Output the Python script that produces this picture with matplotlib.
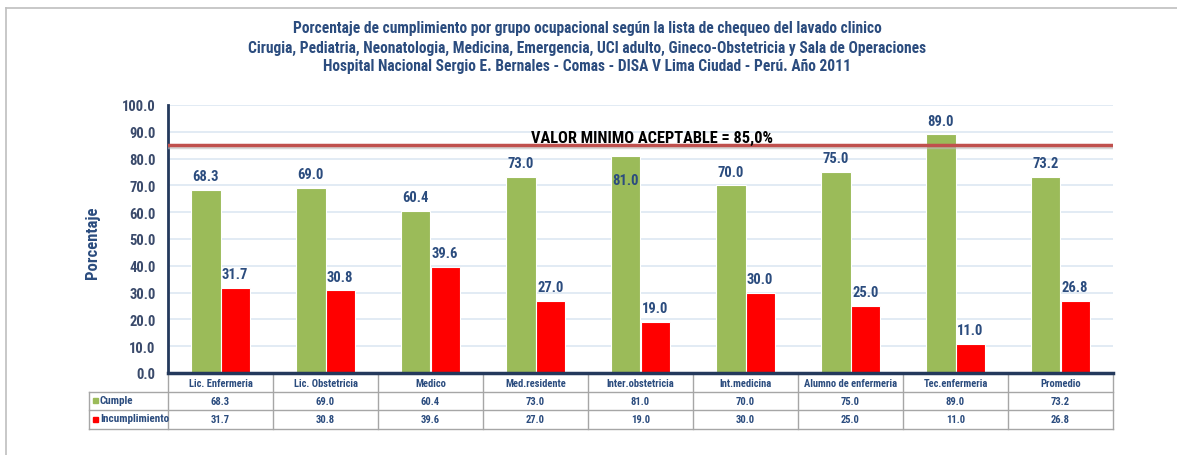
import matplotlib
matplotlib.use("Agg")
import matplotlib.pyplot as plt
from matplotlib.patches import Rectangle
import numpy as np

categories = ["Lic. Enfermeria", "Lic. Obstetricia", "Medico", "Med.residente",
              "Inter.obstetricia", "Int.medicina", "Alumno de enfermeria",
              "Tec.enfermeria", "Promedio"]
cumple = [68.3, 69.0, 60.4, 73.0, 81.0, 70.0, 75.0, 89.0, 73.2]
incumplimiento = [31.7, 30.8, 39.6, 27.0, 19.0, 30.0, 25.0, 11.0, 26.8]
series_names = ["Cumple", "Incumplimiento"]
ref_value = 85.0
ref_label = "VALOR MINIMO ACEPTABLE = 85,0%"
title_lines = [
    "Porcentaje de cumplimiento por grupo ocupacional según la lista de chequeo del lavado clinico",
    "Cirugia, Pediatria, Neonatologia, Medicina, Emergencia, UCI adulto, Gineco-Obstetricia y Sala de Operaciones",
    "Hospital Nacional Sergio E. Bernales - Comas - DISA V Lima Ciudad - Perú. Año 2011",
]

plt.rcParams['font.family'] = ["Roboto Condensed", "DejaVu Sans"]
GREEN = "#9BBB59"
RED = "#FF0000"
NAVY = "#2B4C7E"
TXT = "#3A4A6B"

W, H = 1177, 456
fig = plt.figure(figsize=(W / 100, H / 100), dpi=100)

ov = fig.add_axes([0, 0, 1, 1])
ov.set_xlim(0, W)
ov.set_ylim(H, 0)
ov.axis("off")

ov.plot([6, 6], [9, H], color="#BFBFBF", lw=1.2)
ov.plot([6, W], [9, 9], color="#BFBFBF", lw=1.2)

L, R, T, B = 168, 1113, 106, 374
ax = fig.add_axes([L / W, 1 - B / H, (R - L) / W, (B - T) / H])
n = len(categories)
x = np.arange(n)
bw = 0.28
ax.set_xlim(-0.5, n - 0.5)
ax.set_ylim(0, 100)
ax.set_yticks(np.arange(0, 101, 10))
ax.set_yticklabels([f"{v:.1f}" for v in np.arange(0, 101, 10)])
ax.tick_params(axis="y", length=0, pad=9, labelsize=10.5, labelcolor=TXT)
for lab in ax.get_yticklabels():
    lab.set_fontweight("bold")
ax.set_xticks([])
for v in range(10, 101, 10):
    ax.axhline(v, color="#DDE8F2", lw=1.2, zorder=0)
for s in ["top", "right"]:
    ax.spines[s].set_visible(False)
ax.spines["left"].set_color("#24395C")
ax.spines["left"].set_linewidth(2)
ax.spines["bottom"].set_color("#24395C")
ax.spines["bottom"].set_linewidth(2.5)

ax.bar(x - bw / 2, cumple, bw, color=GREEN, edgecolor="white", lw=0.8, zorder=2)
ax.bar(x + bw / 2, incumplimiento, bw, color=RED, edgecolor="white", lw=0.8, zorder=2)

for xi, v in zip(x, cumple):
    off = -17 if abs(v + 5 - ref_value) < 4 else 10
    ax.annotate(f"{v:.1f}", (xi - bw / 2, v), xytext=(0, off), textcoords="offset points",
                ha="center", va="center", fontsize=10.5, fontweight="bold", color=NAVY, zorder=4)
for xi, v in zip(x, incumplimiento):
    ax.annotate(f"{v:.1f}", (xi + bw / 2, v), xytext=(0, 10), textcoords="offset points",
                ha="center", va="center", fontsize=10.5, fontweight="bold", color=NAVY, zorder=4)

ax.axhline(ref_value - 0.6, color="#BBBBBB", lw=2.5, alpha=0.6, zorder=3)
ax.axhline(ref_value, color="#C0504D", lw=2.5, zorder=3)
ax.text(4.11, ref_value + 3.0, ref_label, ha="center", va="center", fontsize=11.8,
        fontweight="bold", color="black", zorder=4)

ax.set_ylabel("Porcentaje", fontsize=12, fontweight="bold", color=NAVY)
ax.yaxis.set_label_coords(-0.072, 0.49)

for i, t in enumerate(title_lines):
    ov.text(587, 29 + i * 19, t, ha="center", va="center", fontsize=11.2,
            fontweight="bold", color=NAVY)

cw = (R - L) / n
grid = "#A6A6A6"
y0, y1, y2, y3 = B, 393, 411, 430
TL = 89
for i in range(n + 1):
    xx = L + i * cw
    ov.plot([xx, xx], [y0, y3], color=grid, lw=1)
ov.plot([TL, TL], [y1, y3], color=grid, lw=1)
ov.plot([TL, R], [y1, y1], color=grid, lw=1)
ov.plot([TL, R], [y2, y2], color=grid, lw=1)
ov.plot([TL, R], [y3, y3], color=grid, lw=1)
for i, c in enumerate(categories):
    cx = L + (i + 0.5) * cw
    ov.text(cx, (y0 + y1) / 2 + 1, c, ha="center", va="center", fontsize=7.6,
            fontweight="bold", color=NAVY)
    ov.text(cx, (y1 + y2) / 2, f"{cumple[i]:.1f}", ha="center", va="center",
            fontsize=7.6, fontweight="bold", color=NAVY)
    ov.text(cx, (y2 + y3) / 2, f"{incumplimiento[i]:.1f}", ha="center", va="center",
            fontsize=7.6, fontweight="bold", color=NAVY)
for (ya, yb), name, col in [((y1, y2), series_names[0], GREEN), ((y2, y3), series_names[1], RED)]:
    yc = (ya + yb) / 2
    ov.add_patch(Rectangle((93, yc - 2.5), 5, 5, color=col))
    ov.text(100, yc - 1, name, ha="left", va="center", fontsize=8, fontweight="bold", color=NAVY)

fig.savefig("out.png", dpi=100)
